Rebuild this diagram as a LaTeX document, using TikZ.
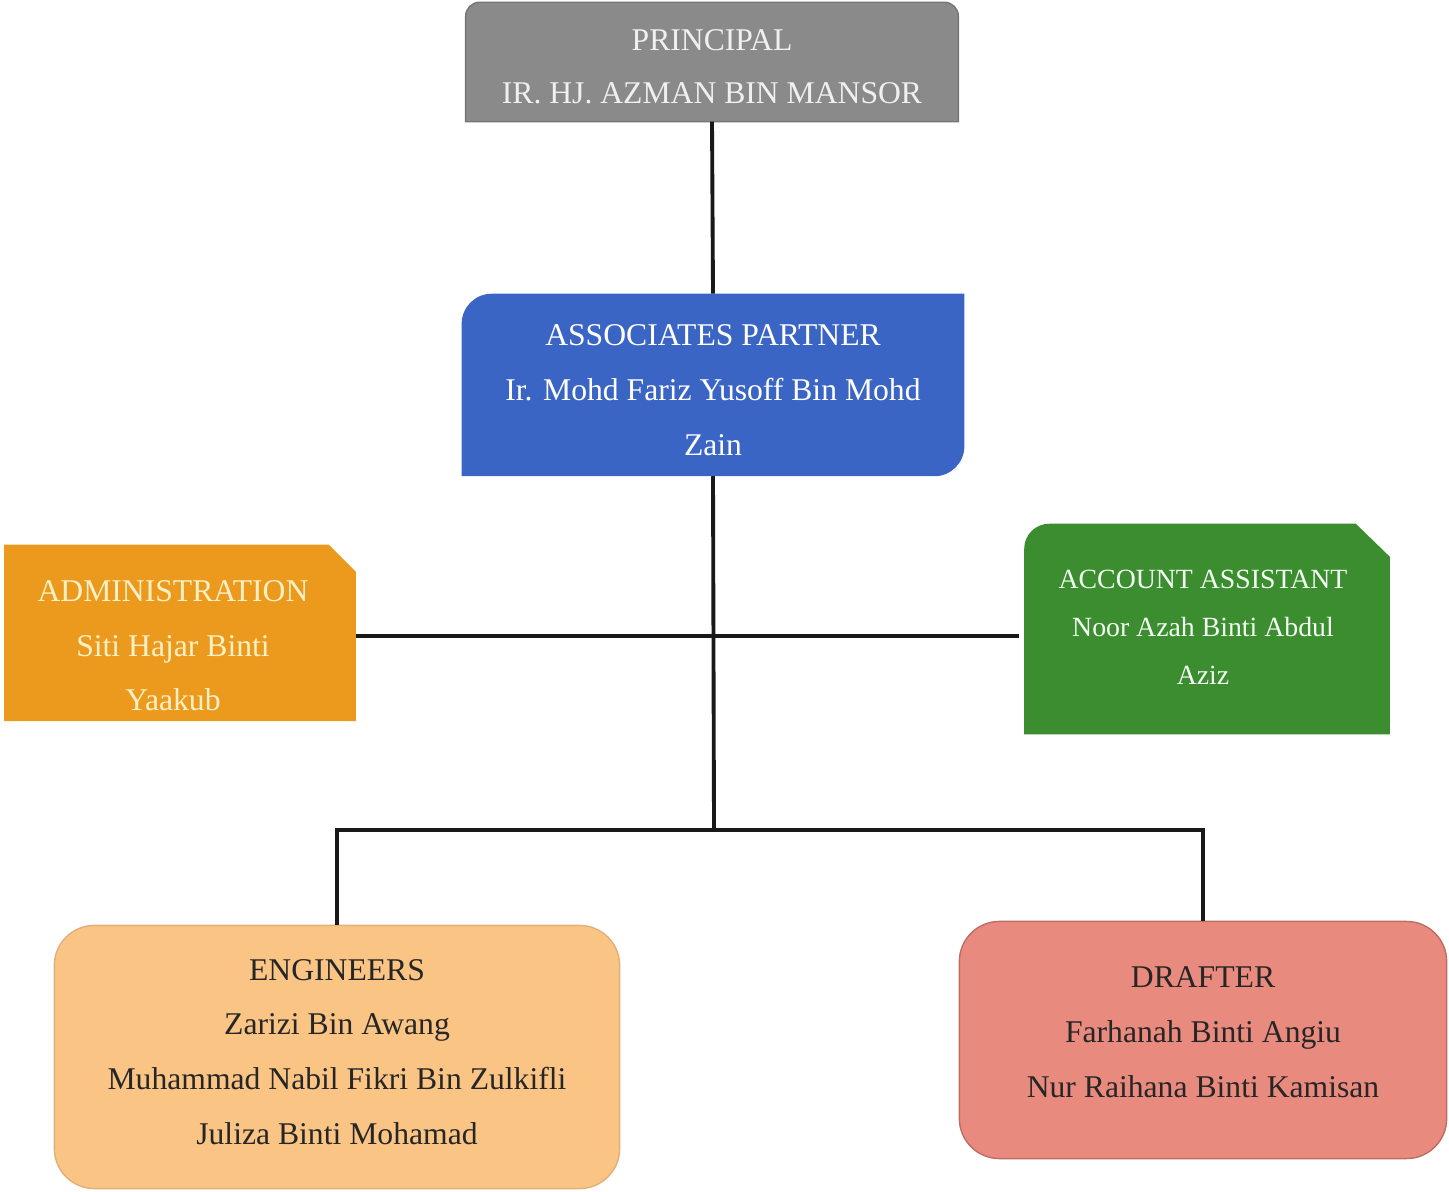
\documentclass[tikz,border=0pt]{standalone}
\usepackage{fontspec}
\setmainfont{Liberation Serif}
\usetikzlibrary{positioning}
\pgfdeclarelayer{back}
\pgfsetlayers{back,main}
\definecolor{princgray}{RGB}{138,138,138}
\definecolor{partnerblue}{RGB}{58,101,196}
\definecolor{adminorange}{RGB}{236,154,30}
\definecolor{accountgreen}{RGB}{60,140,48}
\definecolor{engpeach}{RGB}{250,196,132}
\definecolor{draftsalmon}{RGB}{233,138,126}
\definecolor{creamtext}{RGB}{253,240,196}
\tikzstyle{card} = [inner sep=0pt]
\tikzstyle{cardtext} = [inner sep=0pt, align=center, font=\fontsize{9}{15.6}\selectfont]
\tikzstyle{greybox} = [card, minimum width=4.91cm, minimum height=1.18cm]
\tikzstyle{bluebox} = [card, minimum width=5.01cm, minimum height=1.81cm]
\tikzstyle{orangebox} = [card, minimum width=3.50cm, minimum height=1.75cm]
\tikzstyle{greenbox} = [card, minimum width=3.64cm, minimum height=2.09cm]
\tikzstyle{peachbox} = [card, minimum width=5.65cm, minimum height=2.63cm, rounded corners=.4cm, fill=engpeach, draw=engpeach!90!black]
\tikzstyle{salmonbox} = [card, minimum width=4.87cm, minimum height=2.37cm, rounded corners=.4cm, fill=draftsalmon, draw=draftsalmon!80!black]
\tikzstyle{link} = [line width=1.1pt, draw=black!90]

\begin{document}
\begin{tikzpicture}[x=0.01cm, y=0.01cm]
	\useasboundingbox (0,0) rectangle (1449,1191);
	\node (principal) [greybox, label={[cardtext, text=white!94!black, font=\fontsize{9}{15}\selectfont, yshift=-.05cm]center:{PRINCIPAL\\IR. HJ. AZMAN BIN MANSOR}}] at (712,1129) {};
	\node (partner) [bluebox, label={[cardtext, text=white, yshift=-.05cm]center:{ASSOCIATES PARTNER\\Ir. Mohd Fariz Yusoff Bin Mohd\\Zain}}] at (713,806) {};
	\node (admin) [orangebox, label={[cardtext, text=creamtext, font=\fontsize{9}{15.5}\selectfont, xshift=-.07cm, yshift=-.13cm]center:{ADMINISTRATION\\Siti Hajar Binti\\Yaakub}}] at (180,558) {};
	\node (account) [greenbox, label={[cardtext, text=white!95!green, font=\fontsize{7.9}{13.7}\selectfont, xshift=-.04cm, yshift=.02cm]center:{ACCOUNT ASSISTANT\\Noor Azah Binti Abdul\\Aziz}}] at (1207,562) {};
	\node (engineers) [peachbox, label={[cardtext, text=black!85, yshift=.05cm]center:{ENGINEERS\\Zarizi Bin Awang\\Muhammad Nabil Fikri Bin Zulkifli\\Juliza Binti Mohamad}}] at (337,134) {};
	\node (drafter) [salmonbox, label={[cardtext, text=black!85, yshift=.08cm]center:{DRAFTER\\Farhanah Binti Angiu\\Nur Raihana Binti Kamisan}}] at (1203,151) {};
	% box shapes behind the text
	\begin{pgfonlayer}{back}
		\filldraw [fill=princgray, draw=princgray!85!black] (principal.south west) -- ([yshift=-.14cm]principal.north west) arc (180:90:.14cm) -- ([xshift=-.14cm]principal.north east) arc (90:0:.14cm) -- (principal.south east) -- cycle;
		\fill [partnerblue] (partner.south west) -- ([yshift=-.3cm]partner.north west) arc (180:90:.3cm) -- (partner.north east) -- ([yshift=.3cm]partner.south east) arc (0:-90:.3cm) -- cycle;
		\fill [adminorange] (admin.south west) -- (admin.north west) -- ([xshift=-.27cm]admin.north east) -- ([yshift=-.27cm]admin.north east) -- (admin.south east) -- cycle;
		\fill [accountgreen] (account.south west) -- ([yshift=-.25cm]account.north west) arc (180:90:.25cm) -- ([xshift=-.34cm]account.north east) -- ([yshift=-.33cm]account.north east) -- (account.south east) -- cycle;
	\end{pgfonlayer}
	\coordinate (split) at (714,361);
	\coordinate (midrow) at (714,555);
	\draw [link] (principal.south) -- (partner.north);
	\draw [link] (partner.south) -- (split);
	\draw [link] (admin.east |- midrow) -- ([xshift=-.05cm]account.west |- midrow);
	\draw [link] (engineers.north) |- (split) -| (drafter.north);
\end{tikzpicture}
\end{document}
